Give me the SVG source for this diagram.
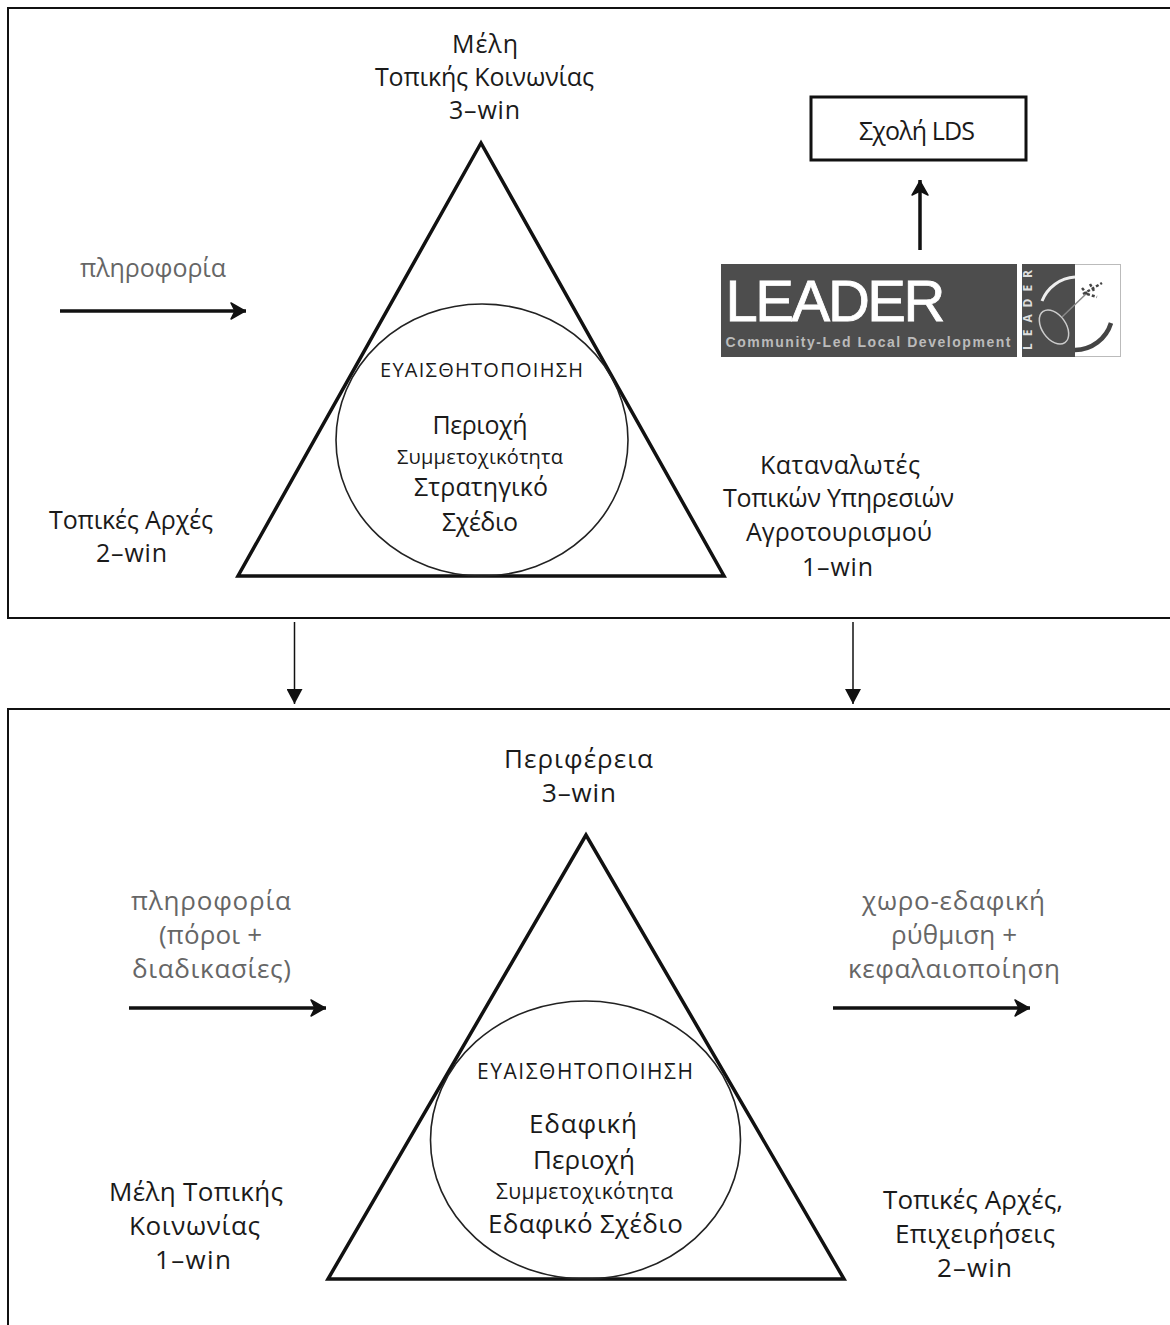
<svg xmlns="http://www.w3.org/2000/svg" width="1170" height="1325" viewBox="0 0 1170 1325">
<style>
text{font-family:"Open Sans","Noto Sans","DejaVu Sans",sans-serif;fill:#1a1a1a;text-anchor:middle}
.l{font-size:25px}.s{font-size:20px}.b{font-size:26px}.bs{font-size:21px}.g{fill:#666}
.tri{fill:none;stroke:#111;stroke-width:3.5}
.cir{fill:none;stroke:#222;stroke-width:1.6}
.box{fill:none;stroke:#111;stroke-width:2}
.ar{fill:none;stroke:#111;stroke-width:3.500}
.thin{fill:none;stroke:#111;stroke-width:1.5}
</style>
<defs>
<marker id="o" markerUnits="userSpaceOnUse" markerWidth="22" markerHeight="22" refX="18" refY="10" orient="auto"><path d="M3 2L17 10L3 18L7 10Z" fill="#111" stroke="#111" stroke-width="1.500" stroke-linejoin="round"/></marker>
<marker id="f" markerUnits="userSpaceOnUse" markerWidth="16" markerHeight="16" refX="15" refY="8" orient="auto"><path d="M0 0L15 8L0 16Z" fill="#111"/></marker>
</defs>
<g id="panel-top"><path class="box" d="M1170 618H8V8H1170"/></g>
<g id="panel-bottom"><path class="box" d="M1170 709H8V1325"/></g>
<g id="triangle-top"><path class="tri" d="M481 143L238 576H724Z"/><ellipse class="cir" cx="482" cy="440" rx="146" ry="136"/>
<text class="s" x="481.500" y="377" textLength="203">ΕΥΑΙΣΘΗΤΟΠΟΙΗΣΗ</text><text class="l" x="480" y="434" textLength="95">Περιοχή</text><text class="s" x="480" y="464" textLength="166">Συμμετοχικότητα</text><text class="l" x="481" y="496" textLength="134">Στρατηγικό</text><text class="l" x="480" y="531" textLength="76">Σχέδιο</text></g>
<g id="top-apex"><text class="l" x="485" y="53" textLength="66">Μέλη</text><text class="l" x="484.500" y="86" textLength="219">Τοπικής Κοινωνίας</text><text class="l" x="484.500" y="119" textLength="71">3–win</text></g>
<g id="top-left"><text class="l" x="131" y="529" textLength="164">Τοπικές Αρχές</text><text class="l" x="131.500" y="562" textLength="71">2–win</text></g>
<g id="top-right"><text class="l" x="840" y="474" textLength="160">Καταναλωτές</text><text class="l" x="838.500" y="507" textLength="231">Τοπικών Υπηρεσιών</text><text class="l" x="839" y="541" textLength="186">Αγροτουρισμού</text><text class="l" x="837.500" y="576" textLength="71">1–win</text></g>
<g id="info-top"><text class="l g" x="153" y="277" textLength="146">πληροφορία</text></g>
<g id="school"><rect x="811" y="97" width="215" height="63" fill="#fff" stroke="#111" stroke-width="3"/><text class="l" x="917" y="140" textLength="116">Σχολή LDS</text></g>
<g id="leader"><rect x="721" y="264" width="296" height="93" fill="#4d4d4d"/><text x="835.500" y="321" textLength="220" style="font-family:'Liberation Sans',sans-serif;font-size:58px;fill:#fff;stroke:#fff;stroke-width:.8">LEADER</text><text x="868" y="346.500" textLength="285" style="font-family:'Liberation Sans',sans-serif;font-size:14px;fill:#bbb;font-weight:700">Community-Led Local Development</text>
<rect x="1022.500" y="264.500" width="98" height="92" fill="#fff" stroke="#bbb"/><rect x="1022" y="264" width="53" height="93" fill="#4d4d4d"/><text transform="translate(1032 310) rotate(-90)" textLength="80" style="font-size:12px;fill:#ddd;font-weight:700">LEADER</text><ellipse cx="1054" cy="327" rx="12" ry="19" transform="rotate(-35 1054 327)" fill="#4d4d4d" stroke="#ccc" stroke-width="1.500"/><path d="M1042 301A38 38 0 0 1 1075 277" fill="none" stroke="#eee" stroke-width="3"/><path d="M1075 350A38 38 0 0 0 1111 323" fill="none" stroke="#444" stroke-width="4.500"/><path d="M1062 317L1087 293" stroke="#888" stroke-width="1.500" fill="none"/><path d="M1083 294L1102 283M1082 288l5 6M1090 284l4 7M1087 294l10 3" stroke="#444" stroke-width="2.500" stroke-dasharray="3 2" fill="none"/></g>
<g id="triangle-bottom"><path class="tri" d="M586 835L328 1279H844Z"/><ellipse class="cir" cx="585.500" cy="1140" rx="155" ry="139"/>
<text class="bs" x="585" y="1079" textLength="216">ΕΥΑΙΣΘΗΤΟΠΟΙΗΣΗ</text><text class="b" x="583" y="1133" textLength="108">Εδαφική</text><text class="b" x="584" y="1169" textLength="102">Περιοχή</text><text class="bs" x="584.500" y="1199" textLength="177">Συμμετοχικότητα</text><text class="b" x="585.500" y="1233" textLength="195">Εδαφικό Σχέδιο</text></g>
<g id="bottom-apex"><text class="b" x="578.500" y="768" textLength="149">Περιφέρεια</text><text class="b" x="579" y="802" textLength="74">3–win</text></g>
<g id="bottom-left"><text class="b" x="196" y="1201" textLength="174">Μέλη Τοπικής</text><text class="b" x="194.500" y="1235" textLength="131">Κοινωνίας</text><text class="b" x="193" y="1269" textLength="76">1–win</text></g>
<g id="bottom-right"><text class="b" x="973" y="1209" textLength="180">Τοπικές Αρχές,</text><text class="b" x="975" y="1243" textLength="160">Επιχειρήσεις</text><text class="b" x="974.500" y="1277" textLength="75">2–win</text></g>
<g id="info-bottom"><text class="b g" x="211" y="910" textLength="160">πληροφορία</text><text class="b g" x="210.500" y="944" textLength="103">(πόροι +</text><text class="b g" x="211.500" y="978" textLength="159">διαδικασίες)</text></g>
<g id="outcome-bottom"><text class="b g" x="953.500" y="910" textLength="183">χωρο-εδαφική</text><text class="b g" x="954" y="944" textLength="126">ρύθμιση +</text><text class="b g" x="954" y="978" textLength="212">κεφαλαιοποίηση</text></g>
<g id="connectors">
<path class="ar" marker-end="url(#o)" d="M60 311H246"/>
<path class="ar" marker-end="url(#o)" d="M129 1008H326"/>
<path class="ar" marker-end="url(#o)" d="M833 1008H1030"/>
<path class="ar" marker-end="url(#o)" d="M920 250V180"/>
<path class="thin" marker-end="url(#f)" d="M294.500 622V704"/>
<path class="thin" marker-end="url(#f)" d="M853 622V704"/>
</g>
</svg>
